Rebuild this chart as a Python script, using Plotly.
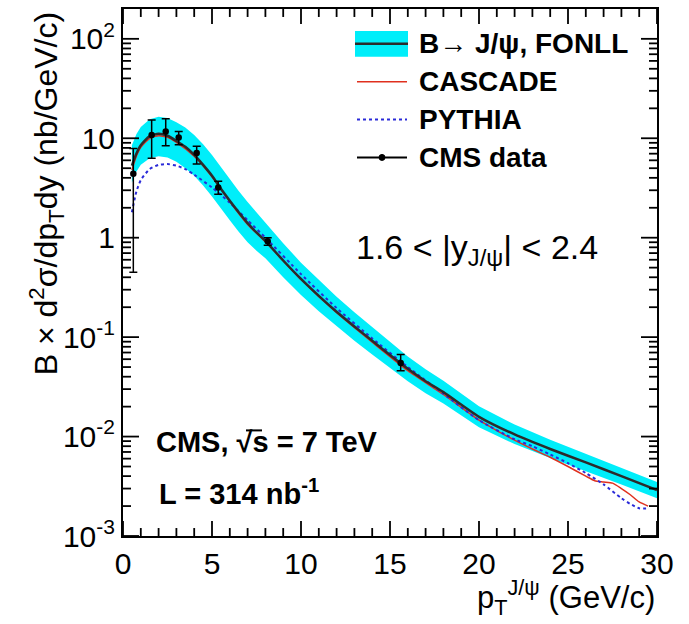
import math
import plotly.graph_objects as go

# ---------------- data ----------------
pt_fonll = [0.5, 0.75, 1, 1.5, 2, 2.5, 3, 3.5, 4, 4.5, 5, 5.5, 6, 6.5, 7, 7.5, 8, 9, 10, 11, 12,
            13, 14, 15, 16, 17, 18, 20, 22, 24, 26, 28, 30]
fonll_central = [5.3, 7.0, 8.5, 10.5, 11.1, 10.6, 9.4, 8.2, 6.8, 5.4, 4.2, 3.1, 2.35, 1.80, 1.40,
                 1.13, 0.93, 0.59, 0.385, 0.26, 0.18, 0.128, 0.092, 0.066, 0.048, 0.036, 0.028,
                 0.0158, 0.0105, 0.0075, 0.0055, 0.0040, 0.0029]
fonll_upper = [8.5, 11.0, 13.0, 15.5, 16.5, 16.0, 14.5, 12.8, 10.8, 8.7, 6.8, 5.1, 3.9, 2.95, 2.28,
               1.79, 1.42, 0.88, 0.56, 0.375, 0.255, 0.178, 0.126, 0.089, 0.064, 0.0475, 0.0365,
               0.0202, 0.0132, 0.0093, 0.0067, 0.0048, 0.0035]
fonll_lower = [3.6, 4.6, 5.4, 6.3, 6.6, 6.4, 5.8, 5.0, 4.2, 3.35, 2.6, 1.95, 1.5, 1.15, 0.90,
               0.74, 0.62, 0.40, 0.265, 0.182, 0.128, 0.092, 0.067, 0.049, 0.036, 0.0272, 0.0215,
               0.0124, 0.0084, 0.0061, 0.0045, 0.0033, 0.0024]

pt_cascade = [0.5, 0.75, 1, 1.5, 2, 2.5, 3, 4, 5, 6, 7, 8, 10, 12, 14, 16, 18, 20, 21, 22, 23,
              24, 25, 26, 26.5, 27, 27.5, 28, 28.5, 29, 29.5]
cascade = [4.8, 6.6, 8.1, 10.0, 10.6, 10.2, 9.1, 6.6, 4.1, 2.3, 1.36, 0.91, 0.38, 0.176, 0.089,
           0.046, 0.0265, 0.0146, 0.0115, 0.0092, 0.0075, 0.0062, 0.0050, 0.0040, 0.0036,
           0.0035, 0.0034, 0.0030, 0.0026, 0.0022, 0.0020]

pt_pythia = [0.5, 0.75, 1, 1.5, 2, 2.5, 3, 3.5, 4, 5, 6, 7, 8, 10, 12, 14, 16, 18, 20, 22, 23,
             24, 25, 26, 27, 28, 28.5, 29, 29.5]
pythia = [1.8, 2.9, 3.8, 4.9, 5.4, 5.5, 5.3, 4.9, 4.3, 3.2, 2.25, 1.5, 1.0, 0.43, 0.196, 0.097,
          0.05, 0.027, 0.0146, 0.0094, 0.0080, 0.0066, 0.0054, 0.0043, 0.0033, 0.0024, 0.0021,
          0.0019, 0.0019]

pt_data = [0.58, 1.61, 2.4, 3.13, 4.14, 5.35, 8.13, 15.6]
cms_data = [4.4, 10.8, 11.7, 10.2, 7.1, 3.2, 0.92, 0.055]
err_up = [3.5, 4.5, 4.0, 1.5, 1.2, 0.5, 0.08, 0.012]
err_down = [3.95, 4.5, 3.3, 1.6, 1.6, 0.47, 0.08, 0.009]

x_major = [0, 5, 10, 15, 20, 25, 30]
x_minor = [v for v in range(0, 31) if v % 5 != 0]
y_tickvals = [1e-3, 1e-2, 1e-1, 1, 10, 100]
y_ticktext = ["10<sup>-3</sup>", "10<sup>-2</sup>", "10<sup>-1</sup>", "1", "10", "10<sup>2</sup>"]
y_minor = [m * 10.0 ** e for e in range(-3, 3) for m in range(2, 10) if m * 10.0 ** e < 200]

FONT = "Liberation Sans, Arial, Helvetica, sans-serif"
CYAN = "rgb(0,238,250)"
X_RANGE = [0, 30]
Y_RANGE = [-3, 2.3]

L, R, T, B = 123, 657, 7, 536
W, H = R - L, B - T
X_PER_PX = (X_RANGE[1] - X_RANGE[0]) / W       # x units per pixel
DEC_PER_PX = (Y_RANGE[1] - Y_RANGE[0]) / H     # decades per pixel


def px(x):
    return (x - L) / W


def py(y):
    return (B - y) / H


fig = go.Figure()
fig.add_trace(go.Scatter(x=pt_fonll, y=fonll_upper, mode="lines", line=dict(width=0),
                         showlegend=False, hoverinfo="skip"))
fig.add_trace(go.Scatter(x=pt_fonll, y=fonll_lower, mode="lines", line=dict(width=0),
                         fill="tonexty", fillcolor=CYAN, showlegend=False, hoverinfo="skip"))
fig.add_trace(go.Scatter(x=pt_cascade, y=cascade, mode="lines", name="CASCADE",
                         line=dict(color="#e0301e", width=1.5, shape="spline", smoothing=0.6),
                         showlegend=False))
fig.add_trace(go.Scatter(x=pt_pythia, y=pythia, mode="lines", name="PYTHIA",
                         line=dict(color="#2a2ad8", width=2, dash="dot", shape="spline",
                                   smoothing=0.6), showlegend=False))
fig.add_trace(go.Scatter(x=pt_fonll, y=fonll_central, mode="lines", name="B→ J/ψ, FONLL",
                         line=dict(color="#2b2b2b", width=2.5, shape="spline", smoothing=0.6),
                         showlegend=False))
fig.add_trace(go.Scatter(x=pt_data, y=cms_data, mode="markers", name="CMS data",
                         marker=dict(color="black", size=6.5),
                         error_y=dict(type="data", symmetric=False, array=err_up,
                                      arrayminus=err_down, color="black", thickness=1.5, width=4),
                         showlegend=False))

# ROOT-style inside tick marks on all four sides, built from the tick arrays
tx, ty = [], []
y_lo, y_hi = 10 ** Y_RANGE[0], 10 ** Y_RANGE[1]
for vals, ln in ((x_major, 15), (x_minor, 8)):
    for v in vals:
        tx += [v, v, None, v, v, None]
        ty += [y_lo, 10 ** (Y_RANGE[0] + ln * DEC_PER_PX), None,
               y_hi, 10 ** (Y_RANGE[1] - ln * DEC_PER_PX), None]
for vals, ln in ((y_tickvals, 16), (y_minor, 8)):
    for v in vals:
        tx += [X_RANGE[0], X_RANGE[0] + ln * X_PER_PX, None,
               X_RANGE[1], X_RANGE[1] - ln * X_PER_PX, None]
        ty += [v, v, None, v, v, None]
fig.add_trace(go.Scatter(x=tx, y=ty, mode="lines", line=dict(color="black", width=1.8),
                         connectgaps=False, showlegend=False, hoverinfo="skip"))

fig.update_xaxes(range=X_RANGE, tickmode="array", tickvals=x_major,
                 showline=True, linecolor="black", linewidth=2, mirror=True,
                 ticks="", showgrid=False, zeroline=False,
                 tickfont=dict(family=FONT, size=30, color="black"))
fig.update_yaxes(type="log", range=Y_RANGE, tickmode="array", tickvals=y_tickvals,
                 ticktext=y_ticktext,
                 showline=True, linecolor="black", linewidth=2, mirror=True,
                 ticks="", showgrid=False, zeroline=False,
                 tickfont=dict(family=FONT, size=30, color="black"))

# ---------------- manual ROOT-style legend ----------------
shapes = []
shapes.append(dict(type="rect", xref="paper", yref="paper", x0=px(355), x1=px(408),
                   y0=py(55), y1=py(29), fillcolor=CYAN, line=dict(width=0)))
shapes.append(dict(type="line", xref="paper", yref="paper", x0=px(355), x1=px(408),
                   y0=py(42), y1=py(42), line=dict(color="#2b2b2b", width=2.5)))
shapes.append(dict(type="line", xref="paper", yref="paper", x0=px(357), x1=px(407),
                   y0=py(80), y1=py(80), line=dict(color="#e0301e", width=1.5)))
shapes.append(dict(type="line", xref="paper", yref="paper", x0=px(357), x1=px(407),
                   y0=py(118), y1=py(118), line=dict(color="#2a2ad8", width=2, dash="dot")))
shapes.append(dict(type="line", xref="paper", yref="paper", x0=px(357), x1=px(407),
                   y0=py(156), y1=py(156), line=dict(color="black", width=2)))
shapes.append(dict(type="circle", xref="paper", yref="paper", x0=px(379), x1=px(385),
                   y0=py(159), y1=py(153), fillcolor="black", line=dict(color="black", width=1)))
# overline of the square root in "√s"
shapes.append(dict(type="line", xref="paper", yref="paper", x0=px(246), x1=px(262),
                   y0=py(430), y1=py(430), line=dict(color="black", width=2)))
fig.update_layout(shapes=shapes)

legend_rows = [("B→ J/ψ, FONLL", 42), ("CASCADE", 80), ("PYTHIA", 118), ("CMS data", 156)]
for txt, yy in legend_rows:
    fig.add_annotation(x=px(417), y=py(yy), xref="paper", yref="paper", text="<b>%s</b>" % txt,
                       showarrow=False, xanchor="left", yanchor="middle",
                       font=dict(family=FONT, size=28, color="black"))

# ---------------- other texts ----------------
fig.add_annotation(x=px(354), y=py(248), xref="paper", yref="paper",
                   text="1.6 &lt; |y<sub>J/ψ</sub>| &lt; 2.4", showarrow=False,
                   xanchor="left", yanchor="middle",
                   font=dict(family=FONT, size=34, color="black"))
fig.add_annotation(x=px(154), y=py(442), xref="paper", yref="paper",
                   text="<b>CMS, √s = 7 TeV</b>",
                   showarrow=False, xanchor="left", yanchor="middle",
                   font=dict(family=FONT, size=29, color="black"))
fig.add_annotation(x=px(157), y=py(492), xref="paper", yref="paper",
                   text="<b>L = 314 nb<sup>-1</sup></b>",
                   showarrow=False, xanchor="left", yanchor="middle",
                   font=dict(family=FONT, size=29, color="black"))

# y-axis title
fig.add_annotation(x=px(46), y=py(193), xref="paper", yref="paper",
                   text="B × d<sup>2</sup>σ/dp<sub>T</sub>dy (nb/GeV/c)",
                   showarrow=False, textangle=-90, xanchor="center", yanchor="middle",
                   font=dict(family=FONT, size=32, color="black"))
# x-axis title
fig.add_annotation(x=1.0, y=py(598), xref="paper", yref="paper",
                   text="p<sub>T</sub><sup>J/ψ</sup> (GeV/c)",
                   showarrow=False, xanchor="right", yanchor="middle",
                   font=dict(family=FONT, size=31, color="black"))

fig.update_layout(width=689, height=624, margin=dict(l=L, r=689 - R, t=T, b=624 - B),
                  paper_bgcolor="white", plot_bgcolor="white", showlegend=False,
                  font=dict(family=FONT, color="black"))

fig.write_html("out.html")
